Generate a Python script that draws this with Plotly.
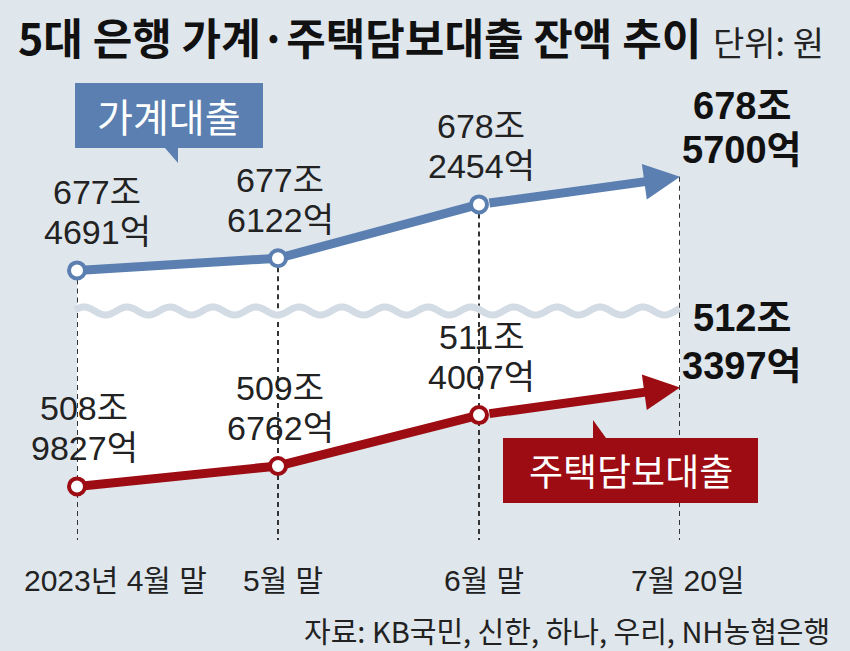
import math
import plotly.graph_objects as go

# ---------------- data ----------------
categories = ["2023년 4월 말", "5월 말", "6월 말", "7월 20일"]
household = [6774691, 6776122, 6782454, 6785700]   # 가계대출, 억원
mortgage = [5089827, 5096762, 5114007, 5123397]    # 주택담보대출, 억원
series_names = ["가계대출", "주택담보대출"]
title_text = "5대 은행 가계·주택담보대출 잔액 추이"
unit_text = "단위: 원"
source_text = "자료: KB국민, 신한, 하나, 우리, NH농협은행"

# ---------------- style / geometry ----------------
W, H = 850, 651
BG = "#dfe6ec"
BLUE = "#5a7fb0"
RED = "#9c0c12"
WAVE = "#d3dce4"
DASH = "#333333"
TXT = "#222222"
NUM_FONT = "Liberation Sans, Noto Sans CJK KR, sans-serif"
KR_FONT = "Noto Sans CJK KR, sans-serif"


def pxx(v):
    return v / W


def pxy(v):
    return 1 - v / H


x = list(range(len(categories)))
hh = [v / 10000 for v in household]   # 조 units
mg = [v / 10000 for v in mortgage]

# pixel geometry of the two (broken) value axes
X_L, X_R = 77, 680
WAVE_Y = 313
TOP_Y = 60
BOT_Y = 540
top_ppu, top_ref_px, top_ref_v = 85.0, 310.3, 677.0
bot_ppu, bot_ref_px, bot_ref_v = 29.5, 515.4, 508.0
top_range = [top_ref_v - (WAVE_Y - top_ref_px) / top_ppu, top_ref_v + (top_ref_px - TOP_Y) / top_ppu]
bot_range = [bot_ref_v - (BOT_Y - bot_ref_px) / bot_ppu, bot_ref_v + (bot_ref_px - WAVE_Y) / bot_ppu]

fig = go.Figure()

# white fills between the lines
fig.add_trace(go.Scatter(x=x, y=[top_range[0]] * len(x), yaxis="y", mode="lines",
                         line=dict(width=0), hoverinfo="skip", showlegend=False))
fig.add_trace(go.Scatter(x=x, y=hh, yaxis="y", mode="lines", fill="tonexty",
                         fillcolor="white", line=dict(width=0), hoverinfo="skip", showlegend=False))
fig.add_trace(go.Scatter(x=x, y=[bot_range[1]] * len(x), yaxis="y2", mode="lines",
                         line=dict(width=0), hoverinfo="skip", showlegend=False))
fig.add_trace(go.Scatter(x=x, y=mg, yaxis="y2", mode="lines", fill="tonexty",
                         fillcolor="white", line=dict(width=0), hoverinfo="skip", showlegend=False))

# dashed guide lines
dx_t, dy_t, dx_b, dy_b = [], [], [], []
for i in x:
    dx_t += [i, i, None]
    dy_t += [hh[i], top_range[0], None]
    dx_b += [i, i, None]
    dy_b += [bot_range[1], bot_range[0], None]
for xs, ys, ax in [(dx_t, dy_t, "y"), (dx_b, dy_b, "y2")]:
    fig.add_trace(go.Scatter(x=xs, y=ys, yaxis=ax, mode="lines", cliponaxis=False,
                             line=dict(color=DASH, width=2, dash="5px,4px"),
                             hoverinfo="skip", showlegend=False))

# lines with markers (last segment drawn as an arrow annotation)
for vals, col, ax, name in [(hh, BLUE, "y", series_names[0]), (mg, RED, "y2", series_names[1])]:
    fig.add_trace(go.Scatter(x=x[:-1], y=vals[:-1], yaxis=ax, mode="lines", cliponaxis=False,
                             line=dict(color=col, width=9), name=name, showlegend=False))

annotations = []
for vals, col, ax in [(hh, BLUE, "y"), (mg, RED, "y2")]:
    annotations.append(dict(x=x[-1], y=vals[-1], xref="x", yref=ax, ax=x[-2], ay=vals[-2],
                            axref="x", ayref=ax, text="", showarrow=True, arrowhead=2,
                            arrowsize=0.8, arrowwidth=9, arrowcolor=col, startstandoff=9))

for vals, col, ax in [(hh, BLUE, "y"), (mg, RED, "y2")]:
    fig.add_trace(go.Scatter(x=x[:-1], y=vals[:-1], yaxis=ax, mode="markers", cliponaxis=False,
                             marker=dict(size=16, color="white", line=dict(color=col, width=4)),
                             hoverinfo="skip", showlegend=False))


def split(v):
    return f"{v // 10000}조", f"{v % 10000}억"


# value labels
first_shift = {"y": 20, "y2": 7}
for raw, vals, ax in [(household, hh, "y"), (mortgage, mg, "y2")]:
    for i in x[:-1]:
        jo, eok = split(raw[i])
        xs = first_shift[ax] if i == 0 else 2
        for txt, ys in [(jo, 78), (eok, 38)]:
            annotations.append(dict(x=i, y=vals[i], xref="x", yref=ax, text=txt, showarrow=False,
                                    xanchor="center", yanchor="middle", xshift=xs, yshift=ys,
                                    font=dict(family=NUM_FONT, size=34, color=TXT)))
    jo, eok = split(raw[-1])
    off = (71, 27) if ax == "y" else (69, 21)
    for txt, ys in [(jo, off[0]), (eok, off[1])]:
        annotations.append(dict(x=x[-1], y=vals[-1], xref="x", yref=ax, text=f"<b>{txt}</b>",
                                showarrow=False, xanchor="center", yanchor="middle",
                                xshift=62, yshift=ys,
                                font=dict(family=NUM_FONT, size=38, color="#111111")))

# category labels
cat_shift = [38, 5, 5, 8]
for i, c in enumerate(categories):
    annotations.append(dict(x=i, y=pxy(580), xref="x", yref="paper", text=c, showarrow=False,
                            xanchor="center", yanchor="middle", xshift=cat_shift[i],
                            font=dict(family=NUM_FONT, size=30, color=TXT)))

# title, unit, source
annotations.append(dict(x=pxx(16), y=pxy(36), xref="paper", yref="paper", text=f"<b>{title_text}</b>",
                        showarrow=False, xanchor="left", yanchor="middle",
                        font=dict(family=KR_FONT, size=43, color="#111111")))
annotations.append(dict(x=pxx(711), y=pxy(42), xref="paper", yref="paper", text=unit_text,
                        showarrow=False, xanchor="left", yanchor="middle",
                        font=dict(family=KR_FONT, size=34, color=TXT)))
annotations.append(dict(x=pxx(832), y=pxy(630), xref="paper", yref="paper", text=source_text,
                        showarrow=False, xanchor="right", yanchor="middle",
                        font=dict(family=KR_FONT, size=29, color=TXT)))

# speech-bubble legends
annotations.append(dict(x=pxx(169), y=pxy(115), xref="paper", yref="paper", text=series_names[0],
                        showarrow=False, xanchor="center", yanchor="middle",
                        font=dict(family=KR_FONT, size=39, color="white")))
annotations.append(dict(x=pxx(631), y=pxy(470), xref="paper", yref="paper", text=series_names[1],
                        showarrow=False, xanchor="center", yanchor="middle",
                        font=dict(family=KR_FONT, size=37, color="white")))


def path(points):
    s = "M " + " L ".join(f"{pxx(a):.5f},{pxy(b):.5f}" for a, b in points) + " Z"
    return s


shapes = []
# wave (decorative axis break)
wpts = []
xx = 75.0
while xx <= 680:
    wpts.append((xx, 311 - 4 * math.cos(2 * math.pi * (xx - 127) / 43)))
    xx += 1.5
wave_path = "M " + " L ".join(f"{pxx(a):.5f},{pxy(b):.5f}" for a, b in wpts)
shapes.append(dict(type="path", path=wave_path, xref="paper", yref="paper",
                   line=dict(color=WAVE, width=7)))
shapes.append(dict(type="path", xref="paper", yref="paper", fillcolor=BLUE, line=dict(width=0),
                   path=path([(75, 83), (263, 83), (263, 148), (178, 148), (178, 163), (165, 148), (75, 148)])))
shapes.append(dict(type="path", xref="paper", yref="paper", fillcolor=RED, line=dict(width=0),
                   path=path([(503, 438), (593, 438), (593, 420), (606, 438), (758, 438), (758, 503), (503, 503)])))

fig.update_layout(
    width=W, height=H, margin=dict(l=0, r=0, t=0, b=0),
    paper_bgcolor=BG, plot_bgcolor="rgba(0,0,0,0)",
    showlegend=False,
    xaxis=dict(domain=[pxx(X_L), pxx(X_R)], range=[0, len(x) - 1], visible=False, fixedrange=True),
    yaxis=dict(domain=[pxy(WAVE_Y), pxy(TOP_Y)], range=top_range, visible=False, anchor="x"),
    yaxis2=dict(domain=[pxy(BOT_Y), pxy(WAVE_Y)], range=bot_range, visible=False, anchor="x"),
    annotations=annotations, shapes=shapes,
)

fig.write_html("out.html")
